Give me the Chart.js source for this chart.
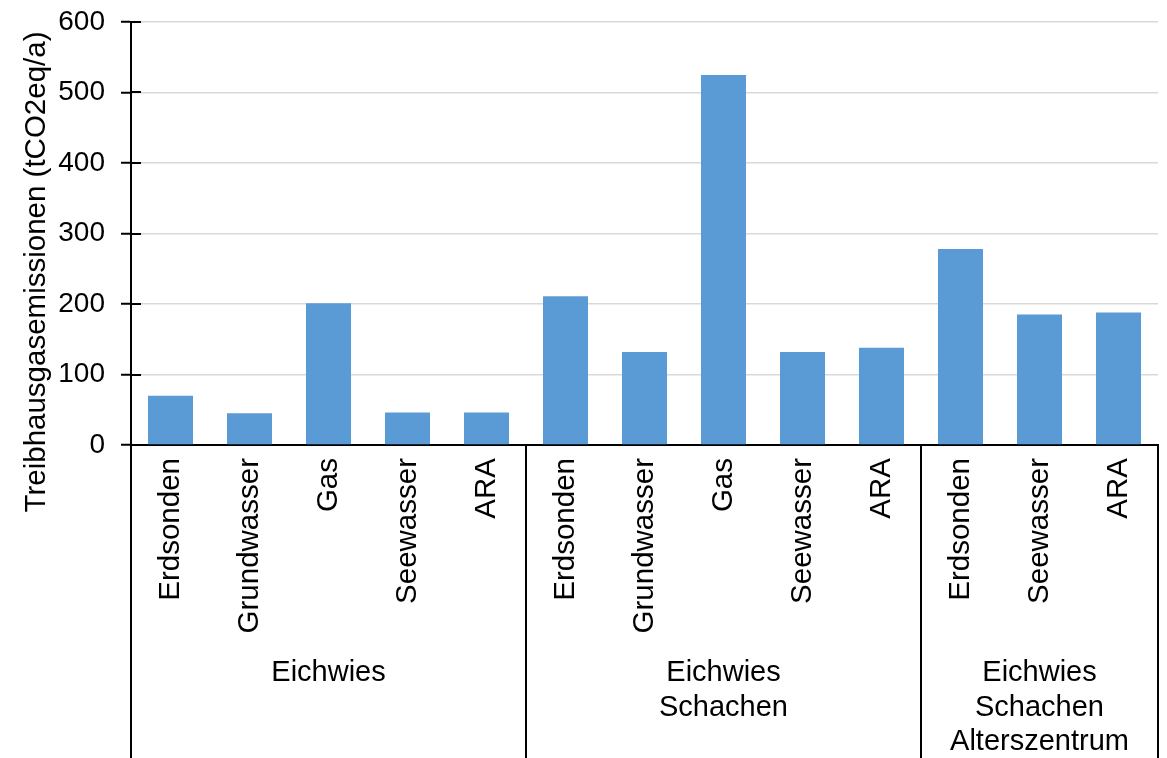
<!DOCTYPE html>
<html>
<head>
<meta charset="utf-8">
<script src="https://cdn.jsdelivr.net/npm/chart.js@4/dist/chart.umd.min.js"></script>
<style>
  html, body { margin: 0; padding: 0; background: #ffffff; }
  #wrap { position: relative; width: 1167px; height: 758px; }
</style>
</head>
<body>
<div id="wrap"><canvas id="c"></canvas></div>
<script>
// Heat supply options and their annual greenhouse gas emissions
const categories = ['Erdsonden', 'Grundwasser', 'Gas', 'Seewasser', 'ARA',
                    'Erdsonden', 'Grundwasser', 'Gas', 'Seewasser', 'ARA',
                    'Erdsonden', 'Seewasser', 'ARA'];
const emissions = [70, 45, 201, 46, 46, 211, 132, 525, 132, 138, 278, 185, 188];

// Area groups along the category axis (label lines, number of options)
const groupLabels = [['Eichwies'], ['Eichwies', 'Schachen'], ['Eichwies', 'Schachen', 'Alterszentrum']];
const groupSizes = [5, 5, 3];

const yTicks = [0, 100, 200, 300, 400, 500, 600];
const yTitle = 'Treibhausgasemissionen (tCO2eq/a)';

const FONT = '"Liberation Sans", Arial, sans-serif';

// Draws the y-axis title, cross tick marks, category labels and group boxes
const groupedAxisPlugin = {
  id: 'groupedAxis',
  afterDraw(chart) {
    const { ctx, chartArea } = chart;
    const x = chart.scales.x;
    const y = chart.scales.y;
    const bottom = chartArea.bottom;
    const H = chart.height;
    ctx.save();

    // tick marks crossing into the plot area
    ctx.strokeStyle = '#000';
    ctx.lineWidth = 2;
    yTicks.forEach(v => {
      const py = Math.round(y.getPixelForValue(v));
      ctx.beginPath();
      ctx.moveTo(chartArea.left, py);
      ctx.lineTo(chartArea.left + 10, py);
      ctx.stroke();
    });

    // y-axis title
    ctx.save();
    ctx.translate(45, 272);
    ctx.rotate(-Math.PI / 2);
    ctx.font = '29.5px ' + FONT;
    ctx.fillStyle = '#000';
    ctx.textAlign = 'center';
    ctx.textBaseline = 'alphabetic';
    ctx.fillText(yTitle, 0, 0);
    ctx.restore();

    // rotated category labels
    ctx.font = '29.5px ' + FONT;
    ctx.fillStyle = '#000';
    categories.forEach((label, i) => {
      const px = x.getPixelForValue(i);
      ctx.save();
      ctx.translate(px, bottom + 13);
      ctx.rotate(-Math.PI / 2);
      ctx.textAlign = 'right';
      ctx.textBaseline = 'middle';
      ctx.fillText(label, 0, 0);
      ctx.restore();
    });

    // group separators and group labels
    ctx.font = '29px ' + FONT;
    ctx.strokeStyle = '#000';
    ctx.lineWidth = 2;
    let start = 0;
    const edges = [chartArea.left];
    groupSizes.forEach((n, g) => {
      const end = start + n;
      const right = end >= categories.length
        ? chartArea.right
        : (x.getPixelForValue(end - 1) + x.getPixelForValue(end)) / 2;
      edges.push(right);
      const left = edges[g];
      const cx = (left + right) / 2;
      ctx.textAlign = 'center';
      ctx.textBaseline = 'middle';
      groupLabels[g].forEach((line, k) => {
        ctx.fillText(line, cx, bottom + 228 + k * 34.5);
      });
      start = end;
    });
    edges.forEach(ex => {
      ctx.beginPath();
      ctx.moveTo(ex, bottom);
      ctx.lineTo(ex, H);
      ctx.stroke();
    });

    ctx.restore();
  }
};

new Chart(document.getElementById('c'), {
  type: 'bar',
  data: {
    labels: categories,
    datasets: [{
      data: emissions,
      backgroundColor: '#5B9BD5',
      borderWidth: 0,
      barPercentage: 0.57,
      categoryPercentage: 1.0
    }]
  },
  options: {
    responsive: true,
    maintainAspectRatio: false,
    animation: false,
    layout: { padding: { top: 22, right: 9, left: 0, bottom: 0 } },
    plugins: {
      legend: { display: false },
      tooltip: { enabled: false }
    },
    scales: {
      x: {
        type: 'category',
        grid: { display: false, drawTicks: false },
        border: { display: true, color: '#000', width: 2 },
        ticks: { display: false },
        afterFit(scale) { scale.height = 313; }
      },
      y: {
        min: 0,
        max: 600,
        afterBuildTicks(scale) { scale.ticks = yTicks.map(v => ({ value: v })); },
        grid: {
          color: '#d9d9d9',
          lineWidth: 1.5,
          tickColor: '#000',
          tickLength: 10,
          tickWidth: 2
        },
        border: { display: true, color: '#000', width: 2 },
        ticks: {
          color: '#000',
          padding: 16,
          font: { family: FONT, size: 28 }
        },
        afterFit(scale) {
          scale.width = 131;
          scale.paddingTop = 0;
          scale.paddingBottom = 0;
        }
      }
    }
  },
  plugins: [groupedAxisPlugin]
});
</script>
</body>
</html>
